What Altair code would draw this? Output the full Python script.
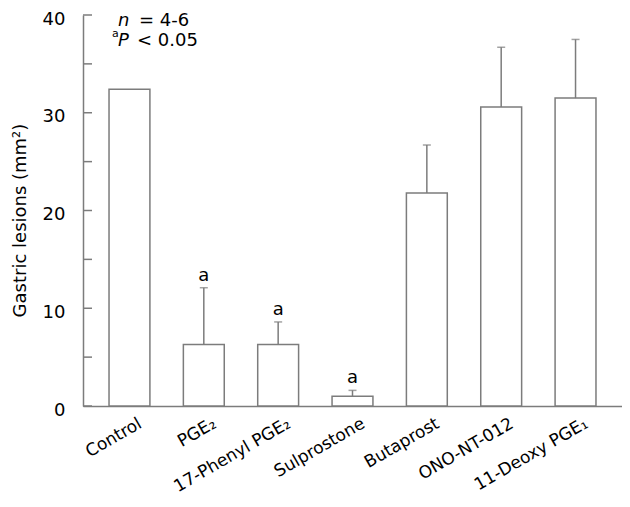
import altair as alt
import pandas as pd

# ---- data ----
categories = ["Control", "PGE₂", "17-Phenyl PGE₂", "Sulprostone",
              "Butaprost", "ONO-NT-012", "11-Deoxy PGE₁"]
means = [32.4, 6.3, 6.3, 1.0, 21.8, 30.6, 31.5]
sems = [None, 5.8, 2.3, 0.6, 4.9, 6.1, 6.0]
sig = ["", "a", "a", "a", "", "", ""]
y_labels = [0, 10, 20, 30, 40]
minor_ticks = [0, 5, 10, 15, 20, 25, 30, 35, 40]

GREY = "#7c7c7c"
FONT = "DejaVu Sans"
FS = 18

df = pd.DataFrame({"cat": categories, "mean": means, "sem": sems, "sig": sig})
df["upper"] = df["mean"] + df["sem"]

yscale = alt.Scale(domain=[0, 40], nice=False, zero=True)
xenc = alt.X(
    "cat:N", sort=categories,
    scale=alt.Scale(paddingInner=0.45, paddingOuter=0.35),
    axis=alt.Axis(title=None, labelAngle=-30, labelAlign="right",
                  labelBaseline="middle", labelOffset=11, labelPadding=16,
                  ticks=False, tickSize=0, domainColor=GREY, domainWidth=1.5,
                  labelFont=FONT, labelFontSize=17, labelColor="black",
                  labelOverlap=False, labelBound=False),
)

base = alt.Chart(df)

bars = base.mark_bar(fill="white", stroke=GREY, strokeWidth=1.5).encode(
    x=xenc,
    y=alt.Y("mean:Q", scale=yscale,
            axis=alt.Axis(title="Gastric lesions (mm²)", values=y_labels,
                          ticks=False, tickSize=0, grid=False, labelPadding=18,
                          labelOffset=4,
                          domainColor=GREY, domainWidth=1.5,
                          labelFont=FONT, labelFontSize=FS, labelColor="black",
                          titleFont=FONT, titleFontSize=FS, titleFontWeight="normal",
                          titleColor="black", titleAngle=270, titleX=-63, titleY=205,
                          titleAlign="center", titleBaseline="middle")),
)

err = base.transform_filter("isValid(datum.sem)").mark_rule(
    color=GREY, strokeWidth=1.5).encode(
    x=alt.X("cat:N", sort=categories), y="mean:Q", y2="upper:Q")

caps = base.transform_filter("isValid(datum.sem)").mark_tick(
    color=GREY, thickness=1.5, size=8).encode(
    x=alt.X("cat:N", sort=categories), y=alt.Y("upper:Q"))

sig_text = base.transform_filter("datum.sig != ''").mark_text(
    dy=-7, baseline="alphabetic", font=FONT, fontSize=FS, color="black").encode(
    x=alt.X("cat:N", sort=categories), y=alt.Y("upper:Q"), text="sig:N")

ticks_df = pd.DataFrame({"v": minor_ticks})
inner_ticks = alt.Chart(ticks_df).mark_rule(color=GREY, strokeWidth=1.5).encode(
    y=alt.Y("v:Q", scale=yscale), x=alt.value(0), x2=alt.value(9))


def label(txt, x, y, size=FS, italic=False):
    return alt.Chart(pd.DataFrame({"t": [txt]})).mark_text(
        align="left", baseline="alphabetic", font=FONT, fontSize=size,
        fontStyle="italic" if italic else "normal", color="black").encode(
        x=alt.value(x), y=alt.value(y), text="t:N")


annots = [
    label("n", 35, 11, italic=True),
    label("= 4-6", 56, 11),
    label("a", 29, 22, size=11),
    label("P", 35, 31, italic=True),
    label("< 0.05", 54, 31),
]

chart = alt.layer(bars, err, caps, sig_text, inner_ticks, *annots).properties(
    width=539, height=391,
    padding={"left": 75, "top": 7, "right": 0, "bottom": 93},
    autosize="none",
).configure_view(stroke=None)

chart.save("out.html", embed_options={"renderer": "svg", "actions": False})
